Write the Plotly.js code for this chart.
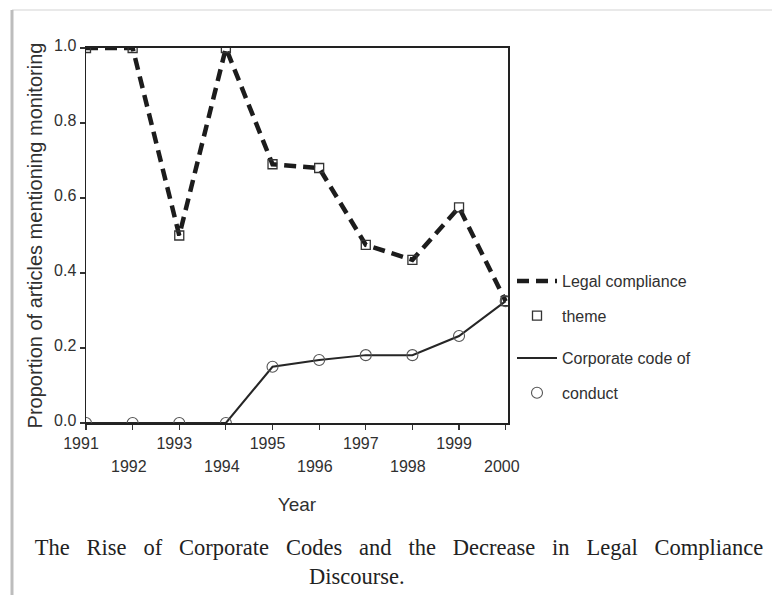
<!DOCTYPE html>
<html>
<head>
<meta charset="utf-8">
<script src="https://cdn.plot.ly/plotly-3.0.1.min.js"></script>
<style>html,body{margin:0;padding:0;background:#fff;}#chart{width:772px;height:595px;}</style>
</head>
<body>
<div id="chart"></div>
<script>
// ---- data ----
var years = [1991, 1992, 1993, 1994, 1995, 1996, 1997, 1998, 1999, 2000];
var yearLabels = ['1991', '1992', '1993', '1994', '1995', '1996', '1997', '1998', '1999', '2000'];
var legalCompliance = [1.0, 1.0, 0.5, 1.0, 0.69, 0.68, 0.475, 0.435, 0.575, 0.325];
var corporateCode = [0.0, 0.0, 0.0, 0.0, 0.15, 0.168, 0.181, 0.181, 0.232, 0.325];
var yTickVals = [0, 0.2, 0.4, 0.6, 0.8, 1.0];
var yTickText = ['0.0', '0.2', '0.4', '0.6', '0.8', '1.0'];
var legendNames = ['Legal compliance', 'theme', 'Corporate code of', 'conduct'];
var yTitle = 'Proportion of articles mentioning monitoring';
var xTitle = 'Year';
var captionLine1 = 'The Rise of Corporate Codes and the Decrease in Legal Compliance';
var captionLine2 = 'Discourse.';

// ---- build ----
var SANS = 'Liberation Sans, Arial, sans-serif';
var SERIF = 'Liberation Serif, Times New Roman, serif';
var INK = '#1c1c1c';
var TXT = '#303030';

var traces = [
  {x: years, y: legalCompliance, name: legendNames[0], mode: 'lines',
   line: {color: INK, width: 4.5, dash: '12px,7px'}, legend: 'legend', legendgroup: 'a'},
  {x: years, y: legalCompliance, name: legendNames[1], mode: 'markers',
   marker: {symbol: 'square-open', size: 9, color: '#333', line: {width: 1.3, color: '#333'}},
   legend: 'legend', legendgroup: 'b'},
  {x: years, y: corporateCode, name: legendNames[2], mode: 'lines',
   line: {color: '#262626', width: 2}, legend: 'legend2', legendgroup: 'c'},
  {x: years, y: corporateCode, name: legendNames[3], mode: 'markers',
   marker: {symbol: 'circle-open', size: 11, color: '#555', line: {width: 1.1, color: '#555'}},
   legend: 'legend2', legendgroup: 'd'}
];

// odd years as tick labels on the first row, even years as a second row
var tickText = yearLabels.map(function (t, i) { return i % 2 === 0 ? t : ''; });
var annotations = [];
years.forEach(function (yr, i) {
  if (i % 2 === 1) {
    annotations.push({x: yr, xref: 'x', y: 0, yref: 'paper', yanchor: 'middle', xanchor: 'center',
      yshift: -43, xshift: -4, showarrow: false, text: yearLabels[i],
      font: {family: SANS, size: 16, color: TXT}});
  }
});
annotations.push({x: (357 - 86) / 422, xref: 'paper', y: 0, yref: 'paper', xanchor: 'center', yanchor: 'top',
  yshift: -139, showarrow: false, text: captionLine2, font: {family: SERIF, size: 22.5, color: '#222'}});

var legendFont = {family: SANS, size: 16, color: TXT};
var layout = {
  width: 772, height: 595,
  margin: {l: 86, r: 264, t: 48, b: 172},
  paper_bgcolor: '#fff', plot_bgcolor: '#fff',
  showlegend: true,
  title: {
    text: captionLine1.split(' ').join(' \u00a0\u00a0'),
    font: {family: SERIF, size: 22.5, color: '#222'},
    x: 399 / 772, xanchor: 'center', xref: 'container',
    y: 1 - 539 / 595, yanchor: 'top', yref: 'container'
  },
  xaxis: {
    range: [1991, 2000.05], tickvals: years, ticktext: tickText,
    ticks: 'outside', ticklen: 5, tickwidth: 1.2, tickcolor: '#333', ticklabelshift: -5,
    showline: true, linecolor: '#222', linewidth: 1.8, mirror: true,
    showgrid: false, zeroline: false,
    tickfont: {family: SANS, size: 16, color: TXT},
    title: {text: xTitle, font: {family: SANS, size: 19, color: TXT}, standoff: 47}
  },
  yaxis: {
    range: [0, 1], tickvals: yTickVals, ticktext: yTickText,
    ticks: 'outside', ticklen: 5, tickwidth: 1.2, tickcolor: '#333', ticklabelshift: -3,
    showline: true, linecolor: '#222', linewidth: 1.5, mirror: true,
    showgrid: false, zeroline: false,
    tickfont: {family: SANS, size: 16, color: TXT},
    title: {text: yTitle, font: {family: SANS, size: 20, color: TXT}, standoff: 6}
  },
  legend: {x: 512 / 772, xref: 'container', xanchor: 'left', y: 1 - 264 / 595, yref: 'container', yanchor: 'top',
    font: legendFont, tracegroupgap: 11, itemwidth: 40, bgcolor: 'rgba(0,0,0,0)', itemclick: false},
  legend2: {x: 512 / 772, xref: 'container', xanchor: 'left', y: 1 - 341 / 595, yref: 'container', yanchor: 'top',
    font: legendFont, tracegroupgap: 11, itemwidth: 40, bgcolor: 'rgba(0,0,0,0)', itemclick: false},
  annotations: annotations,
  shapes: [
    {type: 'line', xref: 'paper', yref: 'paper', x0: -74 / 422, x1: 686 / 422, y0: 1 + 38 / 375, y1: 1 + 38 / 375,
     line: {color: '#e2e2e2', width: 1.5}},
    {type: 'line', xref: 'paper', yref: 'paper', x0: -74 / 422, x1: -74 / 422, y0: 1 + 38 / 375, y1: -172 / 375,
     line: {color: '#bdbdbd', width: 3}}
  ]
};

Plotly.newPlot('chart', traces, layout, {staticPlot: true, displayModeBar: false});
</script>
</body>
</html>
